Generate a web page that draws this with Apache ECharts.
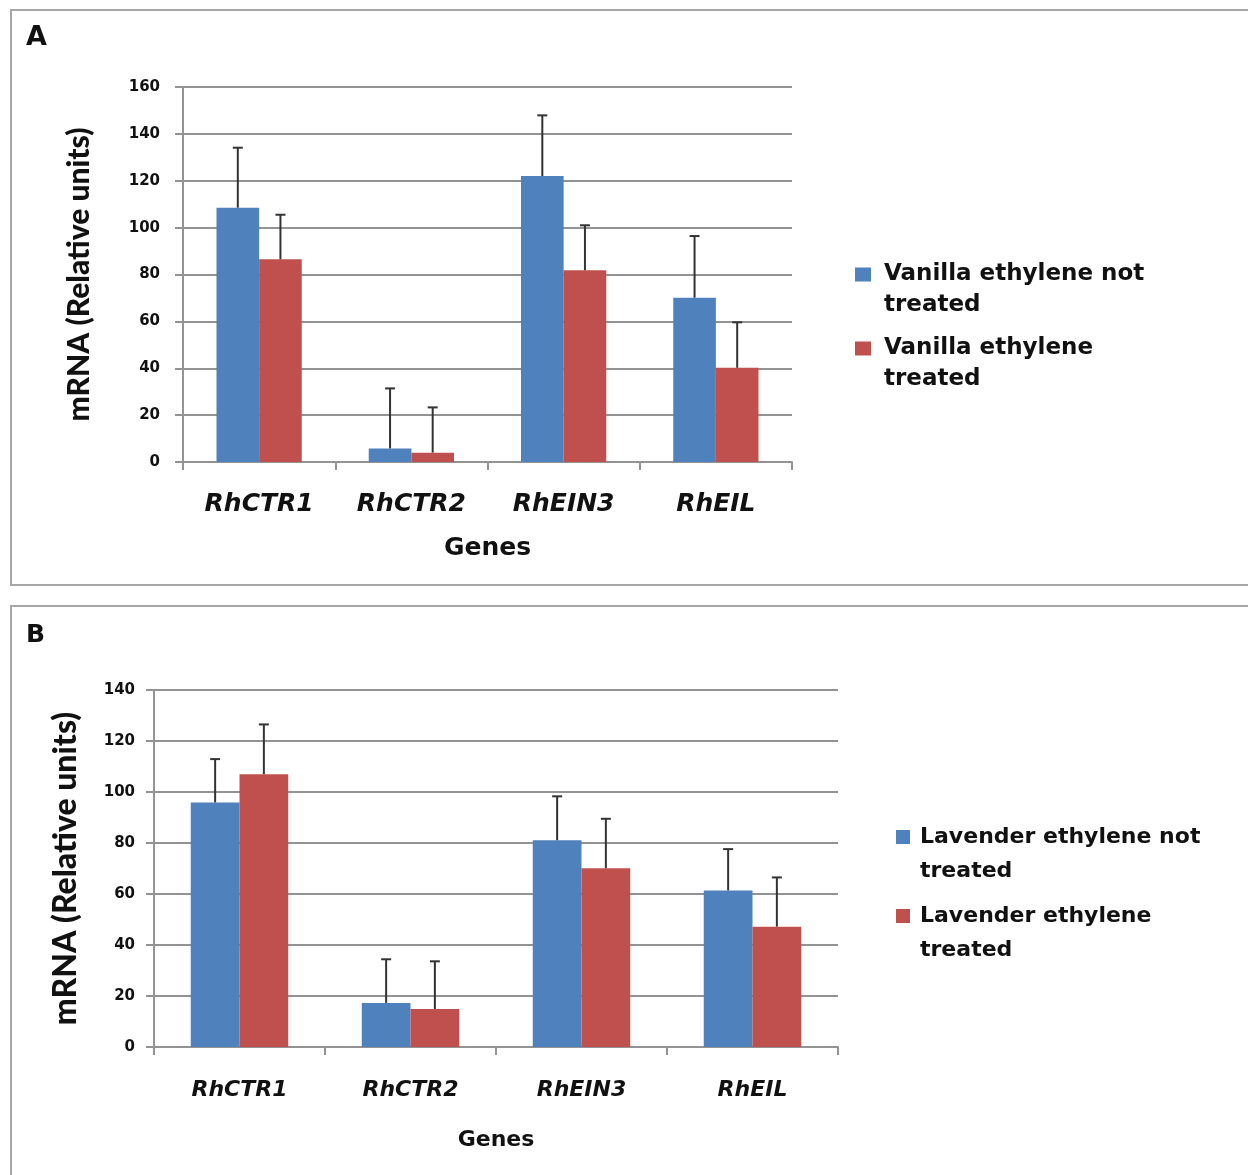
<!DOCTYPE html>
<html>
<head>
<meta charset="utf-8">
<title>mRNA levels of ethylene-related genes</title>
<script src="https://cdn.jsdelivr.net/npm/echarts@6/dist/echarts.min.js"></script>
<style>
  html, body { margin: 0; padding: 0; background: #ffffff; }
  #chart { width: 1248px; height: 1175px; }
</style>
</head>
<body>
<div id="chart"></div>
<script>
// Genes on the category axis (shared by both panels)
const genes = ['RhCTR1', 'RhCTR2', 'RhEIN3', 'RhEIL'];

// Panel A: vanilla treatment
const seriesNamesA = ['Vanilla ethylene not treated', 'Vanilla ethylene treated'];
const vanillaNotTreated = [108.5, 5.8, 122.0, 70.1];
const vanillaNotTreatedErr = [25.6, 25.6, 25.9, 26.3];
const vanillaTreated = [86.5, 4.0, 81.8, 40.2];
const vanillaTreatedErr = [19.0, 19.3, 19.2, 19.4];
const yTicksA = { min: 0, max: 160, interval: 20 };

// Panel B: lavender treatment
const seriesNamesB = ['Lavender ethylene not treated', 'Lavender ethylene treated'];
const lavenderNotTreated = [95.9, 17.3, 81.1, 61.4];
const lavenderNotTreatedErr = [17.0, 17.1, 17.2, 16.2];
const lavenderTreated = [107.0, 14.9, 70.1, 47.2];
const lavenderTreatedErr = [19.5, 18.7, 19.4, 19.3];
const yTicksB = { min: 0, max: 140, interval: 20 };

const BLUE = '#4F81BD';
const RED = '#C0504D';
const GRID_LINE = '#939393';
const INK = '#111111';
const CAT_GAP_A = 0.44;
const CAT_GAP_B = 0.43;

// Legend labels wrap onto two lines; the leading blank line keeps the
// swatch level with the first line of text
const legendLines = {
  'Vanilla ethylene not treated': '\nVanilla ethylene not\ntreated',
  'Vanilla ethylene treated': '\nVanilla ethylene\ntreated',
  'Lavender ethylene not treated': '\nLavender ethylene not\ntreated',
  'Lavender ethylene treated': '\nLavender ethylene\ntreated'
};

// Upward error bar with a cap, placed over the left (-1) or right (+1) bar of a pair
function errorBar(side, catGap) {
  return function (params, api) {
    const cat = api.value(0);
    const val = api.value(1);
    const err = api.value(2);
    const base = api.coord([cat, val]);
    const top = api.coord([cat, val + err]);
    const catW = api.size([1, 0])[0];
    const barW = catW * (1 - catGap) / 2;
    const x = base[0] + side * barW / 2;
    const cap = 5;
    const style = { stroke: '#333333', lineWidth: 2 };
    return {
      type: 'group',
      children: [
        { type: 'line', shape: { x1: x, y1: base[1], x2: x, y2: top[1] }, style: style },
        { type: 'line', shape: { x1: x - cap, y1: top[1], x2: x + cap, y2: top[1] }, style: style }
      ]
    };
  };
}

function errData(values, errs) {
  return values.map((v, i) => [i, v, errs[i]]);
}

function categoryAxis(gridIndex, fontSize, margin, nameGap, nameSize) {
  return {
    type: 'category',
    gridIndex: gridIndex,
    data: genes,
    boundaryGap: true,
    name: 'Genes',
    nameLocation: 'middle',
    nameGap: nameGap,
    nameTextStyle: { fontFamily: 'DejaVu Sans', fontWeight: 'bold', fontSize: nameSize, color: INK },
    axisLine: { show: true, lineStyle: { color: GRID_LINE, width: 2 } },
    axisTick: { show: true, length: 8, interval: 0, alignWithLabel: false, lineStyle: { color: GRID_LINE, width: 2 } },
    axisLabel: {
      interval: 0, margin: margin,
      fontFamily: 'DejaVu Sans', fontWeight: 'bold', fontStyle: 'italic',
      fontSize: fontSize, color: INK
    }
  };
}

function valueAxis(gridIndex, ticks, margin, nameGap, nameSize) {
  return {
    type: 'value',
    gridIndex: gridIndex,
    min: ticks.min, max: ticks.max, interval: ticks.interval,
    name: 'mRNA (Relative units)',
    nameLocation: 'middle',
    nameGap: nameGap,
    nameTextStyle: { fontFamily: 'Lato', fontWeight: 900, fontSize: nameSize, color: INK },
    axisLine: { show: true, lineStyle: { color: GRID_LINE, width: 2 } },
    axisTick: { show: true, length: 8, inside: false, lineStyle: { color: GRID_LINE, width: 2 } },
    splitLine: { show: true, lineStyle: { color: GRID_LINE, width: 2 } },
    axisLabel: {
      margin: margin,
      fontFamily: 'DejaVu Sans', fontWeight: 'bold', fontSize: 15, color: INK
    }
  };
}

function legend(names, left, top, itemW, lineH, gapLeft, fontSize, itemGap) {
  return {
    data: names,
    orient: 'vertical',
    left: left, top: top,
    padding: 0,
    itemWidth: itemW, itemHeight: 14,
    itemGap: itemGap,
    icon: 'rect',
    selectedMode: false,
    formatter: (name) => legendLines[name],
    textStyle: {
      fontFamily: 'DejaVu Sans', fontWeight: 'bold', fontSize: fontSize, color: INK,
      lineHeight: lineH, padding: [0, 0, 0, gapLeft]
    }
  };
}

const chart = echarts.init(document.getElementById('chart'), null, { renderer: 'canvas' });

chart.setOption({
  backgroundColor: '#ffffff',
  animation: false,
  graphic: [
    { type: 'rect', shape: { x: 11, y: 10, width: 1260, height: 575 },
      style: { fill: 'none', stroke: '#a6a6a6', lineWidth: 2 }, silent: true },
    { type: 'rect', shape: { x: 11, y: 606, width: 1260, height: 600 },
      style: { fill: 'none', stroke: '#a6a6a6', lineWidth: 2 }, silent: true },
    { type: 'text', left: 26, top: 24,
      style: { text: 'A', fontFamily: 'DejaVu Sans', fontWeight: 'bold', fontSize: 27, fill: INK } },
    { type: 'text', left: 26, top: 623,
      style: { text: 'B', fontFamily: 'DejaVu Sans', fontWeight: 'bold', fontSize: 25, fill: INK } }
  ],
  legend: [
    legend(seriesNamesA, 855, 228, 16, 31, 8, 23, -19),
    legend(seriesNamesB, 896, 786, 14, 34, 5, 22, -23)
  ],
  grid: [
    { left: 183, top: 87, width: 609, height: 375 },
    { left: 154, top: 690, width: 684, height: 357 }
  ],
  xAxis: [
    categoryAxis(0, 25, 30, 74, 25),
    categoryAxis(1, 22, 32, 82, 22)
  ],
  yAxis: [
    valueAxis(0, yTicksA, 23, 89, 30),
    valueAxis(1, yTicksB, 19, 72, 32)
  ],
  series: [
    { name: seriesNamesA[0], type: 'bar', xAxisIndex: 0, yAxisIndex: 0,
      data: vanillaNotTreated, itemStyle: { color: BLUE },
      barGap: '0%', barCategoryGap: (CAT_GAP_A * 100) + '%' },
    { name: seriesNamesA[1], type: 'bar', xAxisIndex: 0, yAxisIndex: 0,
      data: vanillaTreated, itemStyle: { color: RED },
      barGap: '0%', barCategoryGap: (CAT_GAP_A * 100) + '%' },
    { name: 'errA0', type: 'custom', xAxisIndex: 0, yAxisIndex: 0, z: 5, clip: false,
      renderItem: errorBar(-1, CAT_GAP_A), encode: { x: 0, y: 1 },
      data: errData(vanillaNotTreated, vanillaNotTreatedErr) },
    { name: 'errA1', type: 'custom', xAxisIndex: 0, yAxisIndex: 0, z: 5, clip: false,
      renderItem: errorBar(1, CAT_GAP_A), encode: { x: 0, y: 1 },
      data: errData(vanillaTreated, vanillaTreatedErr) },

    { name: seriesNamesB[0], type: 'bar', xAxisIndex: 1, yAxisIndex: 1,
      data: lavenderNotTreated, itemStyle: { color: BLUE },
      barGap: '0%', barCategoryGap: (CAT_GAP_B * 100) + '%' },
    { name: seriesNamesB[1], type: 'bar', xAxisIndex: 1, yAxisIndex: 1,
      data: lavenderTreated, itemStyle: { color: RED },
      barGap: '0%', barCategoryGap: (CAT_GAP_B * 100) + '%' },
    { name: 'errB0', type: 'custom', xAxisIndex: 1, yAxisIndex: 1, z: 5, clip: false,
      renderItem: errorBar(-1, CAT_GAP_B), encode: { x: 0, y: 1 },
      data: errData(lavenderNotTreated, lavenderNotTreatedErr) },
    { name: 'errB1', type: 'custom', xAxisIndex: 1, yAxisIndex: 1, z: 5, clip: false,
      renderItem: errorBar(1, CAT_GAP_B), encode: { x: 0, y: 1 },
      data: errData(lavenderTreated, lavenderTreatedErr) }
  ]
});
</script>
</body>
</html>
